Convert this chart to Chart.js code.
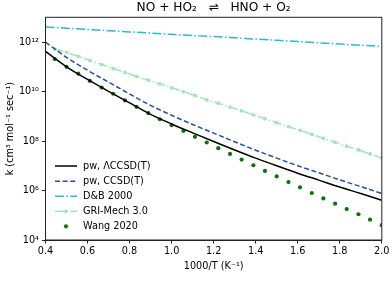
<!DOCTYPE html>
<html>
<head>
<meta charset="utf-8">
<script src="https://cdn.jsdelivr.net/npm/chart.js@4.4.1/dist/chart.umd.min.js"></script>
<style>
  html, body { margin: 0; padding: 0; background: #fff; }
  canvas { display: block; }
</style>
</head>
<body>
<canvas id="c" width="392" height="284"></canvas>
<script>
// ---- data (k stored as log10 k) ----
const titleText = 'NO + HO\u2082   \u21CC   HNO + O\u2082';
const xAxisLabel = '1000/T (K\u207B\u00B9)';
const yAxisLabel = 'k (cm\u00B3 mol\u207B\u00B9 sec\u207B\u00B9)';

const xTicks = [0.4, 0.6, 0.8, 1.0, 1.2, 1.4, 1.6, 1.8, 2.0];
const yTicks = [1e4, 1e6, 1e8, 1e10, 1e12];
const yTickLabels = ['10\u2074', '10\u2076', '10\u2078', '10\u00B9\u2070', '10\u00B9\u00B2'];

const seriesNames = ['pw, \u039BCCSD(T)', 'pw, CCSD(T)', 'D&B 2000', 'GRI-Mech 3.0', 'Wang 2020'];

// 1000/T grid of the computed curves
const curveX = [0.4, 0.5, 0.6, 0.7, 0.8, 0.9, 1.0, 1.1, 1.2, 1.3, 1.4, 1.5, 1.6, 1.7, 1.8, 1.9, 2.0];
const pwLambdaLogK = [11.62, 11.00, 10.49, 10.01, 9.54, 9.08, 8.69, 8.33, 7.98, 7.64, 7.31, 7.00, 6.70, 6.42, 6.14, 5.88, 5.61];
const pwCcsdLogK   = [12.00, 11.38, 10.86, 10.38, 9.90, 9.44, 9.04, 8.67, 8.32, 7.97, 7.63, 7.31, 7.00, 6.72, 6.43, 6.16, 5.88];
const dbLogK       = [12.61, 12.56, 12.51, 12.46, 12.41, 12.36, 12.31, 12.26, 12.22, 12.17, 12.12, 12.07, 12.02, 11.97, 11.92, 11.87, 11.82];

// 1000/T grid of the sampled series
const sampleX = [0.444, 0.500, 0.556, 0.611, 0.667, 0.722, 0.778, 0.833, 0.889, 0.944,
                 1.000, 1.056, 1.111, 1.167, 1.222, 1.278, 1.333, 1.389, 1.444, 1.500,
                 1.556, 1.611, 1.667, 1.722, 1.778, 1.833, 1.889, 1.944, 2.000];
const griLogK  = [11.72, 11.58, 11.42, 11.26, 11.09, 10.93, 10.77, 10.61, 10.46, 10.31,
                  10.15, 10.00, 9.84, 9.66, 9.53, 9.37, 9.22, 9.06, 8.90, 8.74,
                  8.58, 8.43, 8.27, 8.11, 7.95, 7.79, 7.64, 7.48, 7.32];
const wangLogK = [11.31, 11.00, 10.72, 10.43, 10.16, 9.91, 9.64, 9.38, 9.13, 8.88,
                  8.64, 8.41, 8.17, 7.94, 7.71, 7.48, 7.25, 7.02, 6.79, 6.57,
                  6.34, 6.13, 5.90, 5.68, 5.47, 5.25, 5.04, 4.82, 4.60];

// ---- build ----
const FONT = 'DejaVu Sans';
const toPts = (xs, logs) => xs.map((x, i) => ({ x: x, y: Math.pow(10, logs[i]) }));

const datasets = [
  { label: seriesNames[0], data: toPts(curveX, pwLambdaLogK), borderColor: '#000000', backgroundColor: '#000000',
    borderWidth: 1.5, pointRadius: 0, cubicInterpolationMode: 'monotone', _kind: 'line' },
  { label: seriesNames[1], data: toPts(curveX, pwCcsdLogK), borderColor: '#1f4fae', backgroundColor: '#1f4fae',
    borderWidth: 1.5, borderDash: [5, 2.6], pointRadius: 0, cubicInterpolationMode: 'monotone', _kind: 'line' },
  { label: seriesNames[2], data: toPts(curveX, dbLogK), borderColor: '#22c0c8', backgroundColor: '#22c0c8',
    borderWidth: 1.5, borderDash: [9, 2.4, 1.5, 2.4], pointRadius: 0, _kind: 'line' },
  { label: seriesNames[3], data: toPts(sampleX, griLogK), borderColor: '#9fe6b8', backgroundColor: '#9fe6b8',
    borderWidth: 1.5, borderDash: [9, 2.4, 1.5, 2.4], pointRadius: 1.9, pointBorderWidth: 0,
    pointBackgroundColor: '#9fe6b8', _kind: 'linemarker' },
  { label: seriesNames[4], data: toPts(sampleX, wangLogK), borderColor: '#0a760a', backgroundColor: '#0a760a',
    showLine: false, pointRadius: 2.1, pointBorderWidth: 0, pointBackgroundColor: '#0a760a', _kind: 'marker' }
];

const decorPlugin = {
  id: 'decor',
  afterDraw(chart) {
    const ctx = chart.ctx, a = chart.chartArea;
    ctx.save();
    // frame
    ctx.strokeStyle = '#222';
    ctx.lineWidth = 1;
    ctx.strokeRect(a.left, a.top, a.right - a.left, a.bottom - a.top);
    // title
    ctx.fillStyle = '#000';
    ctx.textAlign = 'center';
    ctx.textBaseline = 'middle';
    ctx.font = '12.2px "' + FONT + '"';
    ctx.fillText(titleText, (a.left + a.right) / 2, 8);
    // x label
    ctx.font = '9.7px "' + FONT + '"';
    ctx.fillText(xAxisLabel, (a.left + a.right) / 2, 266);
    // y label
    ctx.save();
    ctx.translate(10.5, (a.top + a.bottom) / 2);
    ctx.rotate(-Math.PI / 2);
    ctx.fillText(yAxisLabel, 0, 0);
    ctx.restore();
    // legend
    const rowY = [166, 181.3, 196.3, 211.3, 226.3];
    const x0 = 55, x1 = 77, tx = 83;
    chart.data.datasets.forEach((ds, i) => {
      const y = rowY[i];
      if (ds._kind !== 'marker') {
        ctx.save();
        ctx.strokeStyle = ds.borderColor;
        ctx.lineWidth = ds.borderWidth;
        ctx.setLineDash(ds.borderDash || []);
        ctx.beginPath();
        ctx.moveTo(x0, y);
        ctx.lineTo(x1, y);
        ctx.stroke();
        ctx.restore();
      }
      if (ds._kind !== 'line') {
        ctx.fillStyle = ds.pointBackgroundColor;
        ctx.beginPath();
        ctx.arc((x0 + x1) / 2, y, ds.pointRadius, 0, Math.PI * 2);
        ctx.fill();
      }
      ctx.fillStyle = '#000';
      ctx.textAlign = 'left';
      ctx.textBaseline = 'middle';
      ctx.font = '9.7px "' + FONT + '"';
      ctx.fillText(ds.label, tx, y);
    });
    ctx.restore();
  }
};

new Chart(document.getElementById('c'), {
  type: 'line',
  data: { datasets: datasets },
  options: {
    responsive: false,
    animation: false,
    events: [],
    layout: { padding: { top: 17.3, right: 9.7, left: 0, bottom: 0 } },
    plugins: { legend: { display: false }, title: { display: false }, tooltip: { enabled: false } },
    scales: {
      x: {
        type: 'linear', min: 0.4, max: 2.0,
        afterBuildTicks: s => { s.ticks = xTicks.map(v => ({ value: v })); },
        afterFit: s => { s.height = 44; },
        ticks: { callback: v => Number(v).toFixed(1), color: '#000', padding: 2.5,
                 font: { family: FONT, size: 9.7 }, maxRotation: 0, autoSkip: false },
        grid: { drawOnChartArea: false, drawTicks: true, tickLength: 3.5, color: '#222', tickWidth: 1 },
        border: { display: true, color: '#222', width: 1 }
      },
      y: {
        type: 'logarithmic', min: 1e4, max: 1e13,
        afterBuildTicks: s => { s.ticks = yTicks.map(v => ({ value: v })); },
        afterFit: s => { s.width = 45.5; },
        ticks: { callback: v => { const i = yTicks.indexOf(v); return i >= 0 ? yTickLabels[i] : ''; },
                 color: '#000', padding: 3, font: { family: FONT, size: 9.7 }, autoSkip: false },
        grid: { drawOnChartArea: false, drawTicks: true, tickLength: 3.5, color: '#222', tickWidth: 1 },
        border: { display: true, color: '#222', width: 1 }
      }
    }
  },
  plugins: [decorPlugin]
});
</script>
</body>
</html>
